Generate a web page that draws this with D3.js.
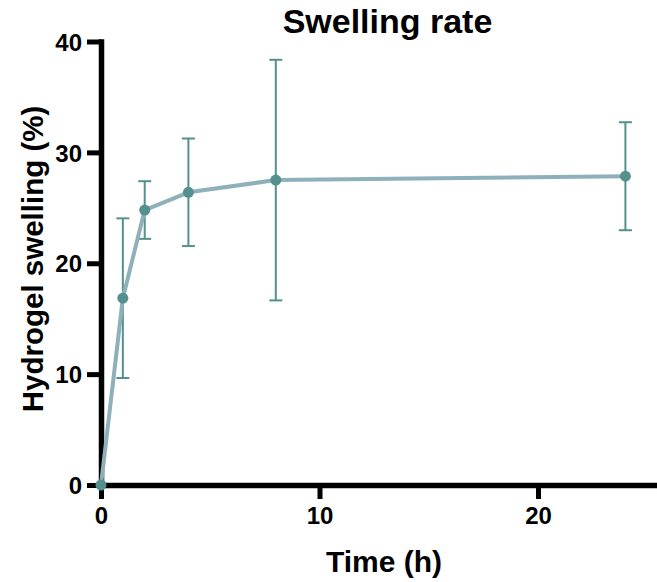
<!DOCTYPE html>
<html>
<head>
<meta charset="utf-8">
<script src="https://cdn.jsdelivr.net/npm/d3@7"></script>
<style>
  html, body { margin: 0; padding: 0; background: #fff; }
  svg { display: block; font-family: "Liberation Sans", Arial, Helvetica, sans-serif; }
</style>
</head>
<body>
<svg id="chart" width="657" height="582"></svg>
<script>
// ---- data ----
const times = [0, 1, 2, 4, 8, 24];
const means = [0, 16.85, 24.8, 26.4, 27.5, 27.85];
const sds   = [0, 7.2, 2.6, 4.85, 10.85, 4.87];
const xTicks = [0, 10, 20];
const yTicks = [0, 10, 20, 30, 40];
const titleText = "Swelling rate";
const xLabel = "Time (h)";
const yLabel = "Hydrogel swelling (%)";

const svg = d3.select("#chart");
const x = d3.scaleLinear().domain([0, 25.4]).range([101, 656]);
const y = d3.scaleLinear().domain([0, 40]).range([485, 41.5]);

const lineColor = "#8eb0bb";
const markColor = "#55908f";

// axes
const xAxis = svg.append("g").attr("transform", `translate(0,${y(0)})`)
  .call(d3.axisBottom(x).tickValues(xTicks).tickSize(14).tickPadding(8).tickSizeOuter(0));
const yAxis = svg.append("g").attr("transform", `translate(${x(0)},0)`)
  .call(d3.axisLeft(y).tickValues(yTicks).tickSize(14).tickPadding(5).tickSizeOuter(0));
[xAxis, yAxis].forEach(g => {
  g.select(".domain").attr("stroke", "#000").attr("stroke-width", 5.5).attr("stroke-linecap", "square");
  g.selectAll(".tick line").attr("stroke", "#000").attr("stroke-width", 5);
  g.selectAll(".tick text").attr("fill", "#000").attr("font-size", 24).attr("font-weight", "bold")
    .attr("font-family", "'Liberation Sans', Arial, sans-serif");
});
yAxis.selectAll(".tick text").attr("dy", "0.36em");

const data = times.map((t, i) => ({ t, m: means[i], s: sds[i] }));
const eb = data.filter(d => d.s > 0);

// error bars
const ebG = svg.append("g").attr("stroke", markColor).attr("stroke-width", 2).attr("fill", "none");
ebG.selectAll("line.v").data(eb).join("line").attr("class", "v")
  .attr("x1", d => x(d.t)).attr("x2", d => x(d.t))
  .attr("y1", d => y(d.m - d.s)).attr("y2", d => y(d.m + d.s));
ebG.selectAll("line.top").data(eb).join("line").attr("class", "top")
  .attr("x1", d => x(d.t) - 6.5).attr("x2", d => x(d.t) + 6.5)
  .attr("y1", d => y(d.m + d.s)).attr("y2", d => y(d.m + d.s));
ebG.selectAll("line.bot").data(eb).join("line").attr("class", "bot")
  .attr("x1", d => x(d.t) - 6.5).attr("x2", d => x(d.t) + 6.5)
  .attr("y1", d => y(d.m - d.s)).attr("y2", d => y(d.m - d.s));

// line
svg.append("path").datum(data)
  .attr("fill", "none").attr("stroke", lineColor).attr("stroke-width", 4)
  .attr("stroke-linejoin", "round")
  .attr("d", d3.line().x(d => x(d.t)).y(d => y(d.m)));

// markers
svg.append("g").selectAll("circle").data(data).join("circle")
  .attr("cx", d => x(d.t)).attr("cy", d => y(d.m)).attr("r", 5.5).attr("fill", markColor);

// titles
svg.append("text").attr("x", 387.5).attr("y", 33).attr("text-anchor", "middle")
  .attr("font-size", 34).attr("font-weight", "bold").text(titleText);
svg.append("text").attr("x", 384).attr("y", 572).attr("text-anchor", "middle")
  .attr("font-size", 30).attr("font-weight", "bold").text(xLabel);
svg.append("text").attr("transform", "translate(43,259) rotate(-90)").attr("text-anchor", "middle")
  .attr("font-size", 29.5).attr("font-weight", "bold").text(yLabel);
</script>
</body>
</html>
